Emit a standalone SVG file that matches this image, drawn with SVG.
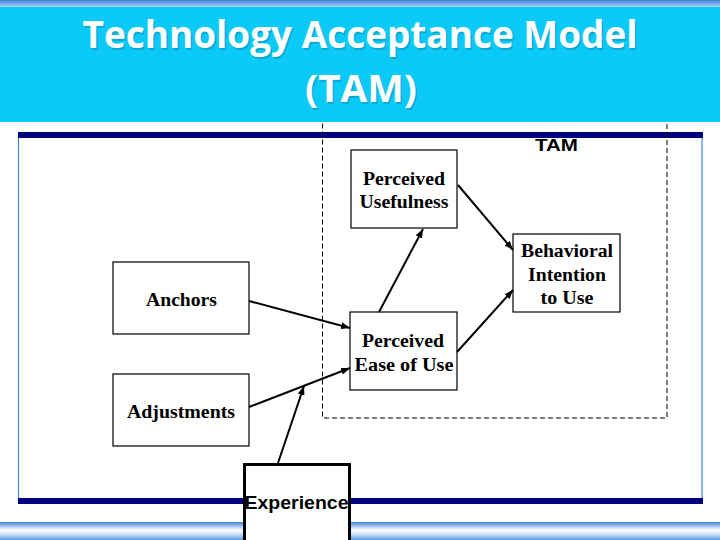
<svg xmlns="http://www.w3.org/2000/svg" width="720" height="540" viewBox="0 0 720 540">
<defs>
<linearGradient id="topg" x1="0" y1="0" x2="0" y2="1">
<stop offset="0" stop-color="#3f7ed8"/>
<stop offset="1" stop-color="#a9d2f7"/>
</linearGradient>
<linearGradient id="botg" x1="0" y1="0" x2="0" y2="1">
<stop offset="0" stop-color="#3d86dc"/>
<stop offset="0.45" stop-color="#ffffff"/>
<stop offset="0.7" stop-color="#c4ddf7"/>
<stop offset="1" stop-color="#5b9be4"/>
</linearGradient>
<marker id="ah" markerUnits="userSpaceOnUse" markerWidth="9" markerHeight="7" refX="9" refY="3.5" orient="auto">
<path d="M0,0 L9,3.5 L0,7 z" fill="#000"/>
</marker>
<style>
.box{fill:#fff;stroke:#000;stroke-width:1.2}
.lbl{font-family:"Liberation Serif","Times New Roman",serif;font-weight:bold;font-size:18px;fill:#000;text-anchor:middle}
.conn{stroke:#000;stroke-width:2;fill:none;marker-end:url(#ah)}
.title{font-family:"Open Sans","Liberation Sans",sans-serif;font-weight:bold;font-size:37px;text-anchor:middle}
</style>
</defs>
<rect x="0" y="0" width="720" height="540" fill="#fff"/>
<rect x="0" y="0" width="720" height="7" fill="url(#topg)"/>
<g id="frame">
<line x1="18.5" y1="135" x2="18.5" y2="501" stroke="#3b8ddc" stroke-width="1.2"/>
<line x1="702" y1="135" x2="702" y2="501" stroke="#3b8ddc" stroke-width="1.2"/>
<rect x="18" y="132" width="685" height="6" fill="#000080"/>
<rect x="18" y="498" width="685" height="6" fill="#000080"/>
</g>
<rect x="0" y="522" width="720" height="18" fill="url(#botg)"/>
<rect id="tam-boundary" x="322.5" y="100.5" width="344.5" height="317.5" fill="none" stroke="#000" stroke-width="1" stroke-dasharray="5,3"/>
<g id="title">
<rect x="0" y="7" width="720" height="115" fill="#0bcaf8"/>
<text class="title" x="361.5" y="49.5" fill="#0790b8" opacity="0.55" textLength="555" lengthAdjust="spacingAndGlyphs">Technology Acceptance Model</text>
<text class="title" x="360" y="48" fill="#fff" textLength="555" lengthAdjust="spacingAndGlyphs">Technology Acceptance Model</text>
<text class="title" x="362.5" y="103.5" fill="#0790b8" opacity="0.55" textLength="112" lengthAdjust="spacingAndGlyphs">(TAM)</text>
<text class="title" x="361" y="102" fill="#fff" textLength="112" lengthAdjust="spacingAndGlyphs">(TAM)</text>
</g>
<text id="tam-label" x="556.5" y="151" font-family="'Liberation Sans',Arial,sans-serif" font-weight="bold" font-size="17" text-anchor="middle" textLength="43" lengthAdjust="spacingAndGlyphs">TAM</text>
<g id="pu">
<rect class="box" x="351" y="150" width="106" height="78"/>
<text class="lbl" x="404" y="185" textLength="82" lengthAdjust="spacingAndGlyphs">Perceived</text>
<text class="lbl" x="404" y="208" textLength="89" lengthAdjust="spacingAndGlyphs">Usefulness</text>
</g>
<g id="bi">
<rect class="box" x="513" y="234" width="107" height="78"/>
<text class="lbl" x="567" y="257" textLength="92" lengthAdjust="spacingAndGlyphs">Behavioral</text>
<text class="lbl" x="567" y="281" textLength="78" lengthAdjust="spacingAndGlyphs">Intention</text>
<text class="lbl" x="567" y="304" textLength="53" lengthAdjust="spacingAndGlyphs">to Use</text>
</g>
<g id="anchors">
<rect class="box" x="113" y="262" width="136" height="72"/>
<text class="lbl" x="181.5" y="306" textLength="71" lengthAdjust="spacingAndGlyphs">Anchors</text>
</g>
<g id="peou">
<rect class="box" x="350" y="312" width="107" height="78"/>
<text class="lbl" x="403" y="347" textLength="82" lengthAdjust="spacingAndGlyphs">Perceived</text>
<text class="lbl" x="404" y="371" textLength="99" lengthAdjust="spacingAndGlyphs">Ease of Use</text>
</g>
<g id="adjustments">
<rect class="box" x="113" y="374" width="136" height="72"/>
<text class="lbl" x="181" y="418" textLength="108" lengthAdjust="spacingAndGlyphs">Adjustments</text>
</g>
<g id="connectors">
<line class="conn" x1="249" y1="301" x2="350" y2="328"/>
<line class="conn" x1="379" y1="312" x2="423" y2="229"/>
<line class="conn" x1="458" y1="185" x2="513" y2="250"/>
<line class="conn" x1="457" y1="352" x2="513" y2="290"/>
<line class="conn" x1="249" y1="407" x2="350" y2="368"/>
<line class="conn" x1="278" y1="463" x2="304" y2="386" stroke-width="1.5"/>
</g>
<g id="experience">
<rect x="244.5" y="464.5" width="105" height="80" fill="#fff" stroke="#000" stroke-width="3"/>
<text x="296.5" y="509" font-family="'Liberation Sans',Arial,sans-serif" font-weight="bold" font-size="19" text-anchor="middle" textLength="104" lengthAdjust="spacingAndGlyphs">Experience</text>
</g>
</svg>
